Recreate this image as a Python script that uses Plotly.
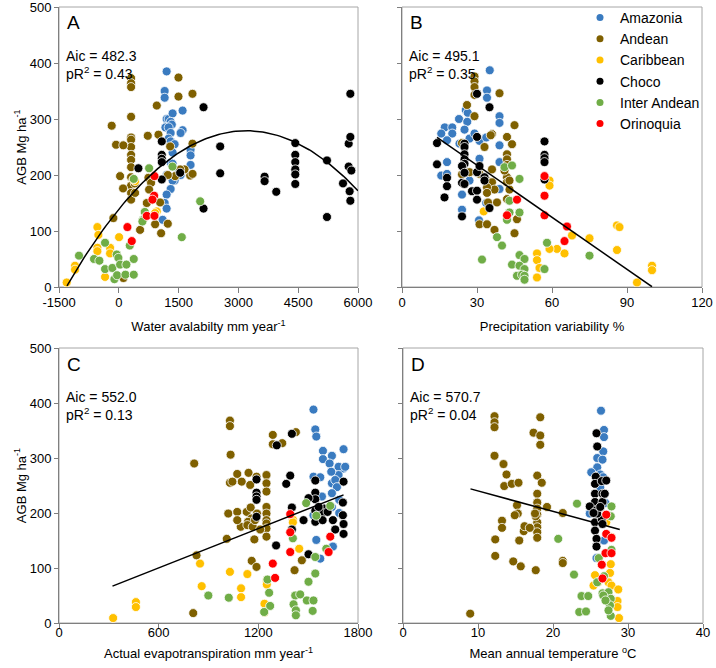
import numpy as np
import plotly.graph_objects as go
from plotly.subplots import make_subplots

REGIONES = ["Amazonia", "Andean", "Caribbean", "Choco", "Inter Andean", "Orinoquia"]
COLORES = ["#3A7BC0", "#7F6000", "#FFC000", "#000000", "#70AD47", "#FF0000"]

# --- Panel A: disponibilidad de agua (mm/año) vs AGB
A_AMAZONIA_X = [1200, 1150, 1150, 1200, 1250, 1350, 1300, 1330, 1170, 1250, 1300, 1600, 1600, 1550, 1250, 1300, 1400,
                1350, 1800, 1800, 1800, 1300, 1350, 1400, 1350, 1300, 1200, 1150, 1200, 1100, 1200, 1500, 1550]
A_AMAZONIA_Y = [385, 350, 338, 300, 300, 310, 295, 290, 285, 285, 275, 315, 280, 275, 265, 260, 255,
                240, 245, 235, 218, 222, 220, 190, 190, 175, 165, 150, 140, 120, 200, 205, 200]
A_ANDEAN_X = [308, 308, 308, 308, 308, 308, 308, 308, 308, 308, 308, 308, 308, 308, -178, -69, 113, 32, 107, -136,
              953, 727, 995, 1288, 1497, 1497, 1848, 1848, 1790, 1850, 1648, 1539, 1413, 1229, 743, 810, 760, 702,
              1036, 911, 1229, 1061, 534, 409, 400, 116]
A_ANDEAN_Y = [373, 364, 357, 304, 267, 263, 250, 236, 227, 214, 196, 181, 168, 156, 288, 254, 253, 198, 176, 123,
              324, 270, 272, 251, 374, 340, 345, 256, 199, 202, 210, 210, 198, 200, 195, 186, 174, 150,
              151, 112, 113, 96, 102, 168, 185, 16]
A_CARIBBEAN_X = [-1307, -1098, -1098, -537, -512, -537, -537, -219, -219, 7, -345, 409, 367, 953, 911]
A_CARIBBEAN_Y = [8, 38, 31, 107, 93, 70, 64, 70, 60, 89, 18, 189, 192, 135, 132]
A_CHOCO_X = [492, 1078, 1078, 1078, 1078, 1078, 1539, 2125, 2125, 2543, 2543, 3657, 3657, 3950, 4427, 4427, 4427,
             4427, 4427, 4427, 5222, 5222, 5624, 5766, 5766, 5790, 5808, 5808, 5808, 5833]
A_CHOCO_Y = [212, 260, 236, 229, 223, 192, 204, 321, 140, 251, 203, 197, 189, 170, 257, 236, 223,
             210, 201, 184, 226, 125, 185, 256, 215, 171, 154, 345, 268, 208]
A_INTER_X = [-998, -621, -487, -345, -345, -161, -110, -52, -10, 32, -43, 166, 191, 375, 375, 275, 375, 760, 651,
             609, 1346, 2041, 1580, 592]
A_INTER_Y = [56, 50, 47, 79, 32, 34, 14, 58, 52, 40, 21, 22, 40, 50, 22, 74, 193, 212, 134,
             120, 215, 153, 89, 117]
A_ORINOQUIA_X = [216, 325, 894, 886, 844, 702, 894]
A_ORINOQUIA_Y = [107, 82, 198, 163, 156, 127, 127]

# --- Panel B: variabilidad de la precipitación (%)
B_AMAZONIA_X = [35.1, 34, 34, 25.5, 26.3, 22.8, 26.1, 39, 39, 17.1, 20.1, 15.7, 20.1, 25, 18, 23, 27, 25, 31, 31,
                39, 39, 18, 15.7, 18, 27, 24, 24, 30.8, 33.7, 39, 33.7, 29]
B_AMAZONIA_Y = [387, 351, 338, 316, 311, 300, 295, 305, 293, 285, 285, 274, 274, 281, 262, 256, 265, 250, 261, 229,
                253, 223, 223, 199, 202, 190, 165, 138, 119, 150, 175, 267, 274]
B_ANDEAN_X = [29, 29, 29, 29, 26, 29, 39, 45, 36, 35.5, 33, 42, 44, 42, 42, 42, 36, 24, 24, 27, 31, 34, 36, 37, 34,
              34, 34.4, 38, 42, 42, 43, 42, 46, 31, 34, 37, 45, 43, 41]
B_ANDEAN_Y = [376, 367, 357, 343, 325, 305, 346, 289, 273, 271, 250, 268, 255, 237, 228, 218, 210, 257, 201, 205,
              202, 190, 187, 174, 178, 168, 151, 151, 196, 187, 174, 157, 121, 112, 112, 102, 96, 190, 208]
B_CARIBBEAN_X = [32.7, 59, 59, 68, 75, 86, 87, 86, 62, 59, 65, 54, 54, 55, 54, 94, 100, 100]
B_CARIBBEAN_Y = [135, 190, 181, 92, 87, 110, 107, 66, 68, 68, 60, 60, 48, 34, 17, 8, 38, 30]
B_CHOCO_X = [14, 14, 17, 18, 18, 24, 25, 25, 25, 25, 25, 24, 25, 24, 25, 30, 35, 30, 30, 31, 33, 33, 28, 30, 30, 35,
             57, 57, 57, 57, 57]
B_CHOCO_Y = [257, 219, 160, 195, 180, 126, 256, 250, 237, 228, 220, 216, 204, 186, 184, 345, 321, 268, 205, 216, 196,
             190, 171, 172, 156, 141, 260, 236, 230, 223, 192]
B_INTER_X = [41, 44, 47, 43, 43, 47, 42, 38, 40, 32, 47, 49, 44, 47, 49, 46, 48, 49, 49, 57, 58, 75]
B_INTER_Y = [214, 217, 193, 154, 133, 133, 120, 89, 74, 49, 57, 50, 40, 38, 32, 20, 22, 20, 13, 32, 79, 56]
B_ORINOQUIA_X = [57, 57, 57, 46, 42, 66, 65]
B_ORINOQUIA_Y = [198, 163, 128, 156, 128, 108, 82]

# --- Panel C: evapotranspiración real (mm/año)
C_AMAZONIA_X = [1532, 1543, 1549, 1589, 1589, 1643, 1713, 1713, 1683, 1683, 1532, 1573, 1629, 1639, 1643, 1663, 1673,
                1643, 1687, 1687, 1643, 1583, 1549, 1573, 1649, 1532, 1723]
C_AMAZONIA_Y = [388, 352, 339, 313, 298, 304, 316, 281, 284, 269, 266, 265, 290, 275, 254, 260, 247,
                236, 224, 200, 211, 230, 151, 117, 139, 196, 284]
C_ANDEAN_X = [814, 1029, 1029, 1033, 1029, 1287, 1287, 1426, 1344, 1019, 1073, 1100, 1044, 1141, 1151, 1189, 1249,
              1249, 1249, 1249, 1249, 1249, 1249, 1249, 1249, 1073, 1130, 1154, 1192, 1158, 1138, 1094, 1134, 1166,
              1211, 1180, 1073, 1010, 1176, 1160, 1189, 828, 808, 1418, 1462]
C_ANDEAN_Y = [290, 368, 358, 306, 255, 342, 325, 347, 327, 199, 271, 257, 257, 273, 251, 266, 269,
              254, 239, 211, 199, 187, 181, 172, 157, 202, 202, 210, 199, 190, 184, 175, 178, 175,
              170, 187, 187, 153, 152, 113, 102, 123, 18, 96, 114]
C_CARIBBEAN_X = [326, 463, 463, 849, 859, 1029, 1134, 1096, 1096, 1237, 1237, 1251, 1408, 1408, 1446, 1251]
C_CARIBBEAN_Y = [9, 38, 29, 108, 67, 93, 89, 63, 47, 35, 19, 78, 188, 183, 135, 70]
C_CHOCO_X = [1189, 1189, 1189, 1189, 1189, 1311, 1402, 1392, 1368, 1307, 1402, 1402, 1543, 1543, 1543, 1543, 1543,
             1502, 1472, 1502, 1597, 1583, 1617, 1587, 1649, 1663, 1713, 1709, 1709, 1713, 1713, 1563]
C_CHOCO_Y = [261, 237, 230, 224, 193, 323, 344, 268, 253, 141, 210, 170, 259, 237, 225, 204, 184,
             227, 187, 125, 208, 200, 202, 187, 187, 170, 257, 219, 196, 180, 162, 211]
C_INTER_X = [899, 1022, 1255, 1265, 1271, 1235, 1408, 1422, 1412, 1426, 1426, 1452, 1492, 1502, 1543, 1532, 1527,
             1543, 1488, 1549, 1633, 1609]
C_INTER_Y = [50, 46, 79, 55, 31, 20, 154, 50, 34, 23, 14, 52, 41, 75, 90, 41, 22, 120, 218, 195, 213, 135]
C_ORINOQUIA_X = [1287, 1301, 1392, 1392, 1392, 1633, 1623]
C_ORINOQUIA_Y = [108, 82, 198, 165, 129, 157, 129]

# --- Panel D: temperatura media anual (ºC)
D_AMAZONIA_X = [26.4, 26.8, 26.8, 26.7, 25.9, 26.6, 25.9, 25.1, 26.3, 26.7, 24.9, 26.8, 25.8, 26.3, 27.0]
D_AMAZONIA_Y = [386, 351, 338, 312, 300, 297, 283, 274, 270, 265, 199, 150, 118, 247, 218]
D_ANDEAN_X = [8.96, 12.2, 12.2, 12.2, 12.2, 13.4, 13.8, 13.5, 14.5, 15.4, 15.2, 15.3, 14.9, 13.2, 13.2, 12.3, 12.3,
              14.7, 15.7, 15.5, 16.1, 16.2, 17.4, 18.3, 18.3, 18.3, 17.9, 17.9, 17.9, 17.9, 17.9, 17.9, 17.9, 17.9,
              17.9, 17.7, 16.9, 18.5, 19.2, 17.7, 21.3, 21.3, 21.3, 17.6]
D_ANDEAN_Y = [17, 376, 365, 356, 304, 289, 270, 249, 253, 255, 214, 199, 196, 186, 173, 152, 122,
              112, 103, 150, 167, 176, 346, 341, 324, 374, 268, 235, 219, 208, 197, 183, 174, 165,
              155, 194, 173, 255, 211, 96, 200, 113, 109, 199]
D_CARIBBEAN_X = [25.6, 25.4, 26.0, 27.6, 27.4, 27.7, 27.8, 28.7, 28.6, 28.6, 28.8, 27.1, 27.8]
D_CARIBBEAN_Y = [87, 68, 74, 91, 74, 107, 68, 61, 40, 29, 9, 183, 156]
D_CHOCO_X = [25.8, 25.9, 25.7, 25.6, 26.5, 27.1, 25.6, 26.6, 25.6, 24.9, 26.6, 25.8, 25.6, 26.5, 26.6, 25.6, 25.8,
             25.8, 25.9, 25.4, 26.9, 26.3]
D_CHOCO_Y = [345, 321, 266, 253, 258, 259, 235, 235, 220, 212, 220, 205, 183, 189, 180, 168, 153,
             139, 199, 200, 235, 211]
D_INTER_X = [27.8, 27.7, 23.2, 20.7, 22.8, 23.8, 24.7, 23.5, 24.4, 26.1, 25.9, 26.8, 26.6, 27.4, 27.7, 27.6, 27.7,
             27.8, 26.7, 27.0, 27.4]
D_INTER_Y = [212, 194, 217, 153, 88, 49, 49, 20, 21, 118, 74, 85, 54, 56, 44, 32, 13, 133, 50, 41, 23]
D_ORINOQUIA_X = [27.1, 27.1, 27.8, 27.0, 27.8, 26.5, 26.6]
D_ORINOQUIA_Y = [197, 162, 155, 127, 127, 106, 81]

# coeficientes de los modelos ajustados (np.polyval) y su rango en x
TENDENCIA_A = [-1.368e-5, 0.087552, 138.9]
TENDENCIA_B = [-3.10, 310.5]
TENDENCIA_C = [0.1193, 28.6]
TENDENCIA_D = [-3.71, 277.2]
RANGO_A = [-1300, 6000]
RANGO_B = [14, 100]
RANGO_C = [322, 1713]
RANGO_D = [9, 28.9]

ESTADISTICOS = {"A": ("482.3", "0.43"), "B": ("495.1", "0.35"), "C": ("552.0", "0.13"), "D": ("570.7", "0.04")}

TICKS_X_A = [-1500, 0, 1500, 3000, 4500, 6000]
TICKS_X_B = [0, 30, 60, 90, 120]
TICKS_X_C = [0, 600, 1200, 1800]
TICKS_X_D = [0, 10, 20, 30, 40]
TICKS_Y = [0, 100, 200, 300, 400, 500]

TITULOS_X = [
    "Water avalabilty mm year<sup>-1</sup>",
    "Precipitation variability %",
    "Actual evapotranspiration mm year<sup>-1</sup>",
    "Mean annual temperature <sup>o</sup>C",
]

FUENTE = "Liberation Sans, Arial, sans-serif"
W, H = 716, 668

paneles = [
    ("A", 1, 1, [A_AMAZONIA_X, A_ANDEAN_X, A_CARIBBEAN_X, A_CHOCO_X, A_INTER_X, A_ORINOQUIA_X],
     [A_AMAZONIA_Y, A_ANDEAN_Y, A_CARIBBEAN_Y, A_CHOCO_Y, A_INTER_Y, A_ORINOQUIA_Y], TENDENCIA_A, RANGO_A, TICKS_X_A),
    ("B", 1, 2, [B_AMAZONIA_X, B_ANDEAN_X, B_CARIBBEAN_X, B_CHOCO_X, B_INTER_X, B_ORINOQUIA_X],
     [B_AMAZONIA_Y, B_ANDEAN_Y, B_CARIBBEAN_Y, B_CHOCO_Y, B_INTER_Y, B_ORINOQUIA_Y], TENDENCIA_B, RANGO_B, TICKS_X_B),
    ("C", 2, 1, [C_AMAZONIA_X, C_ANDEAN_X, C_CARIBBEAN_X, C_CHOCO_X, C_INTER_X, C_ORINOQUIA_X],
     [C_AMAZONIA_Y, C_ANDEAN_Y, C_CARIBBEAN_Y, C_CHOCO_Y, C_INTER_Y, C_ORINOQUIA_Y], TENDENCIA_C, RANGO_C, TICKS_X_C),
    ("D", 2, 2, [D_AMAZONIA_X, D_ANDEAN_X, D_CARIBBEAN_X, D_CHOCO_X, D_INTER_X, D_ORINOQUIA_X],
     [D_AMAZONIA_Y, D_ANDEAN_Y, D_CARIBBEAN_Y, D_CHOCO_Y, D_INTER_Y, D_ORINOQUIA_Y], TENDENCIA_D, RANGO_D, TICKS_X_D),
]

# posición en pixeles de cada área de trazado: (izq, der, arriba, abajo)
AREAS = {"A": (59, 358, 7, 287), "B": (402, 702, 7, 287), "C": (59, 358, 348, 623), "D": (403, 703, 348, 623)}

fig = make_subplots(rows=2, cols=2)

for letra, fila, col, xs, ys, coef, rango, ticks_x, in paneles:
    for region, color, x, y in zip(REGIONES, COLORES, xs, ys):
        fig.add_trace(go.Scatter(
            x=x, y=y, mode="markers", name=region, showlegend=False,
            marker=dict(color=color, size=9, line=dict(color="white", width=0.8))),
            row=fila, col=col)
    if len(coef) == 3:
        xl = np.linspace(rango[0], rango[1], 120)
    else:
        xl = np.array(rango)
    fig.add_trace(go.Scatter(
        x=xl, y=np.polyval(coef, xl), mode="lines", showlegend=False,
        line=dict(color="black", width=1.5)), row=fila, col=col)

# leyenda (marcadores más pequeños que los puntos)
for region, color in zip(REGIONES, COLORES):
    fig.add_trace(go.Scatter(x=[None], y=[None], mode="markers", name=region,
                             marker=dict(color=color, size=7)), row=1, col=2)

for i, (letra, fila, col, xs, ys, coef, rango, ticks_x) in enumerate(paneles):
    izq, der, arr, aba = AREAS[letra]
    eje = "" if i == 0 else str(i + 1)
    # en la fila de abajo las etiquetas quedan más pegadas al eje
    fig.layout["xaxis" + eje].update(
        domain=[izq / W, der / W], range=[ticks_x[0], ticks_x[-1]], automargin=False,
        tickvals=ticks_x, ticktext=[str(t) for t in ticks_x], ticklabeloverflow="allow",
        ticklabelstandoff=(-2 if fila == 1 else -8),
        ticks="outside", ticklen=5, tickcolor="#7F7F7F",
        showline=True, linecolor="#7F7F7F", linewidth=1, showgrid=False, zeroline=False,
        tickfont=dict(size=13, color="black"),
        title=dict(text=TITULOS_X[i], font=dict(size=13, color="black"),
                   standoff=(13 if fila == 1 else 10)))
    fig.layout["yaxis" + eje].update(
        domain=[1 - aba / H, 1 - arr / H], range=[0, 500], tickvals=TICKS_Y, automargin=False,
        ticks="outside", ticklen=4, tickcolor="#7F7F7F", ticklabeloverflow="allow",
        showline=True, linecolor="#7F7F7F", linewidth=1, showgrid=False, zeroline=False,
        showticklabels=(col == 1), tickfont=dict(size=13, color="black"),
        title=dict(text="AGB Mg ha<sup>-1</sup>" if col == 1 else "",
                   font=dict(size=13, color="black"), standoff=0))
    # marco superior y derecho
    fig.add_shape(type="rect", xref="x" + eje + " domain", yref="y" + eje + " domain",
                  x0=0, x1=1, y0=0, y1=1, line=dict(color="#A6A6A6", width=1), layer="below")
    aic, pr2 = ESTADISTICOS[letra]
    fig.add_annotation(x=(izq + 6) / W, y=1 - (arr + 16) / H, xref="paper", yref="paper",
                       text=letra, showarrow=False, xanchor="left", yanchor="middle",
                       font=dict(size=19, color="black"))
    fig.add_annotation(x=(izq + 5) / W, y=1 - (arr + 49) / H, xref="paper", yref="paper",
                       text="Aic = " + aic, showarrow=False, xanchor="left", yanchor="middle",
                       font=dict(size=14, color="black"))
    fig.add_annotation(x=(izq + 5) / W, y=1 - (arr + 66) / H, xref="paper", yref="paper",
                       text="pR<sup>2</sup> = " + pr2, showarrow=False, xanchor="left", yanchor="middle",
                       font=dict(size=14, color="black"))

fig.update_layout(
    width=W, height=H, margin=dict(l=0, r=0, t=0, b=0, autoexpand=False),
    paper_bgcolor="white", plot_bgcolor="white",
    font=dict(family=FUENTE, size=13, color="black"),
    legend=dict(x=580 / W, y=1 - 2 / H, xanchor="left", yanchor="top",
                font=dict(size=14), bgcolor="rgba(0,0,0,0)", itemwidth=30, tracegroupgap=0),
)

# sin el margen por defecto del body, la figura ocupa exactamente la ventana
fig.write_html("out.html", config={"displayModeBar": False},
               post_script="document.body.style.margin = '0';")
